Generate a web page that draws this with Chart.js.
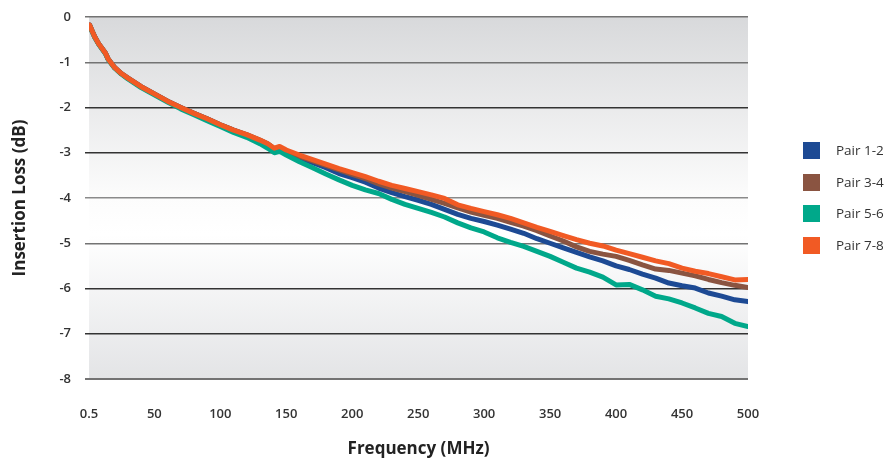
<!DOCTYPE html>
<html>
<head>
<meta charset="utf-8">
<script src="https://cdn.jsdelivr.net/npm/chart.js@4.4.1/dist/chart.umd.min.js"></script>
<style>
  html, body { margin: 0; padding: 0; background: #ffffff; }
  #wrap { position: relative; width: 896px; height: 463px; }
  #chart { position: absolute; left: 0; top: 0; }
  .leg { position: absolute; left: 803px; height: 17px; font: 13.5px "Open Sans", sans-serif; color: #333; white-space: nowrap; }
  .leg span.box { position: absolute; left: 0; top: 0; width: 17px; height: 17px; }
  .leg span.txt { position: absolute; left: 33px; top: -1px; line-height: 19px; }
</style>
</head>
<body>
<div id="wrap">
  <canvas id="chart" width="896" height="463"></canvas>
</div>
<script>
// ---- data ----
const freqs = [1, 3, 5, 8, 10, 13, 15, 20, 25, 30,
    40, 50, 60, 70, 80, 90, 100, 110, 120, 130,
    136, 141, 145, 150,
    160, 170, 180, 190, 200, 210, 220, 230, 240, 250,
    260, 270, 280, 290, 300, 310, 320, 330, 340, 350,
    360, 370, 380, 390, 400, 410, 420, 430, 440, 450,
    460, 470, 480, 490, 500];

const pair12 = [-0.18, -0.32, -0.45, -0.6, -0.68, -0.8, -0.93, -1.12, -1.25, -1.35,
    -1.54, -1.7, -1.86, -2.0, -2.13, -2.25, -2.38, -2.5, -2.61, -2.73,
    -2.81, -2.92, -2.9, -2.98,
    -3.12, -3.22, -3.33, -3.46, -3.55, -3.65, -3.78, -3.88, -3.97, -4.05,
    -4.14, -4.25, -4.36, -4.45, -4.52, -4.6, -4.69, -4.78, -4.9, -5.0,
    -5.1, -5.2, -5.3, -5.39, -5.5, -5.58, -5.68, -5.77, -5.88, -5.94,
    -5.99, -6.1, -6.17, -6.25, -6.29];

const pair34 = [-0.18, -0.32, -0.45, -0.6, -0.68, -0.8, -0.93, -1.12, -1.25, -1.35,
    -1.54, -1.7, -1.86, -2.0, -2.13, -2.25, -2.38, -2.5, -2.6, -2.72,
    -2.8, -2.91, -2.88, -2.96,
    -3.08, -3.18, -3.28, -3.38, -3.48, -3.57, -3.69, -3.78, -3.86, -3.94,
    -4.03, -4.12, -4.22, -4.31, -4.38, -4.45, -4.54, -4.62, -4.72, -4.84,
    -4.95, -5.08, -5.18, -5.24, -5.29, -5.38, -5.48, -5.57, -5.6, -5.66,
    -5.72, -5.8, -5.87, -5.93, -5.98];

const pair56 = [-0.19, -0.33, -0.46, -0.61, -0.69, -0.81, -0.94, -1.13, -1.26, -1.37,
    -1.56, -1.72, -1.88, -2.03, -2.16, -2.29, -2.42, -2.55, -2.66, -2.8,
    -2.9, -3.0, -2.97, -3.05,
    -3.2, -3.33, -3.47, -3.6, -3.72, -3.82, -3.9, -4.03, -4.14, -4.23,
    -4.32, -4.42, -4.55, -4.66, -4.75, -4.88, -4.98, -5.07, -5.18, -5.29,
    -5.42, -5.55, -5.64, -5.75, -5.92, -5.91, -6.03, -6.17, -6.23, -6.32,
    -6.43, -6.55, -6.62, -6.77, -6.84];

const pair78 = [-0.18, -0.32, -0.45, -0.6, -0.68, -0.8, -0.93, -1.12, -1.25, -1.35,
    -1.54, -1.7, -1.86, -2.0, -2.13, -2.25, -2.38, -2.5, -2.6, -2.72,
    -2.8, -2.9, -2.86, -2.94,
    -3.05, -3.15, -3.25, -3.35, -3.44, -3.53, -3.63, -3.72, -3.79, -3.86,
    -3.93, -4.01, -4.15, -4.23, -4.3, -4.37, -4.45, -4.55, -4.65, -4.74,
    -4.83, -4.92, -5.0, -5.06, -5.15, -5.23, -5.31, -5.39, -5.45, -5.55,
    -5.62, -5.67, -5.74, -5.81, -5.8];

const seriesNames = ["Pair 1-2", "Pair 3-4", "Pair 5-6", "Pair 7-8"];
const seriesColors = ["#1d4a94", "#8a5441", "#00a88a", "#f15a24"];
const seriesOrder = [3, 2, 1, 0];   // orange drawn on top

const xTicks = [0.5, 50, 100, 150, 200, 250, 300, 350, 400, 450, 500];
const yTicks = [-8, -7, -6, -5, -4, -3, -2, -1, 0];

// grid line tone per level (some lines look darker than others)
function gridColor(v) {
    if (v === -2 || v === -3 || v === -6 || v === -7) return "#333333";
    if (v === -4) return "#8a8a8a";
    return "#737373";
}

// ---- gray gradient behind the plot ----
const plotBackground = {
    id: "plotBackground",
    beforeDraw(chart) {
        const { ctx, chartArea: a } = chart;
        const g = ctx.createLinearGradient(0, a.top, 0, a.bottom);
        g.addColorStop(0, "#d8d9db");
        g.addColorStop(0.5, "#fcfcfc");
        g.addColorStop(0.6, "#ffffff");
        g.addColorStop(1, "#e3e4e6");
        ctx.save();
        ctx.fillStyle = g;
        ctx.fillRect(a.left, a.top, a.right - a.left, a.bottom - a.top);
        ctx.restore();
    }
};

const allSeries = [pair12, pair34, pair56, pair78];
const datasets = allSeries.map((vals, i) => ({
    label: seriesNames[i],
    data: freqs.map((f, k) => ({ x: f, y: vals[k] })),
    borderColor: seriesColors[i],
    backgroundColor: seriesColors[i],
    borderWidth: 5,
    pointRadius: 0,
    tension: 0,
    borderJoinStyle: "round",
    borderCapStyle: "round",
    order: seriesOrder[i]
}));

const tickFont = { family: "'Open Sans', sans-serif", size: 13, weight: "600" };
const titleFont = { family: "'Open Sans', sans-serif", size: 17, weight: "bold" };

new Chart(document.getElementById("chart"), {
    type: "line",
    data: { datasets: datasets },
    options: {
        responsive: false,
        animation: false,
        layout: { padding: { left: 5, right: 148, top: 0, bottom: 0 } },
        plugins: {
            legend: { display: false },
            tooltip: { enabled: false }
        },
        scales: {
            x: {
                type: "linear",
                min: 0.5,
                max: 500,
                afterBuildTicks: s => { s.ticks = xTicks.map(v => ({ value: v })); },
                ticks: {
                    callback: v => String(v),
                    font: tickFont,
                    color: "#333",
                    padding: 27,
                    maxRotation: 0,
                    autoSkip: false
                },
                grid: { display: false, drawTicks: false },
                border: { display: false },
                title: {
                    display: true,
                    text: "Frequency (MHz)",
                    font: titleFont,
                    color: "#222",
                    padding: { top: -10, bottom: 4 }
                }
            },
            y: {
                min: -8,
                max: 0,
                afterBuildTicks: s => { s.ticks = yTicks.map(v => ({ value: v })); },
                afterFit: s => { s.paddingTop = 17; },
                ticks: {
                    callback: v => String(v),
                    font: tickFont,
                    color: "#333",
                    padding: 14
                },
                grid: {
                    color: c => gridColor(c.tick.value),
                    lineWidth: c => (c.tick.value === -8 ? 2 : 1.5),
                    tickLength: 4
                },
                border: { display: false },
                title: {
                    display: true,
                    text: "Insertion Loss (dB)",
                    font: titleFont,
                    color: "#222",
                    padding: { top: 5, bottom: 15 }
                }
            }
        }
    },
    plugins: [plotBackground]
});

// ---- legend on the right ----
const wrap = document.getElementById("wrap");
seriesNames.forEach((name, i) => {
    const d = document.createElement("div");
    d.className = "leg";
    d.style.top = (142 + i * 31.7) + "px";
    d.innerHTML = '<span class="box" style="background:' + seriesColors[i] + '"></span><span class="txt">' + name + "</span>";
    wrap.appendChild(d);
});
</script>
</body>
</html>
